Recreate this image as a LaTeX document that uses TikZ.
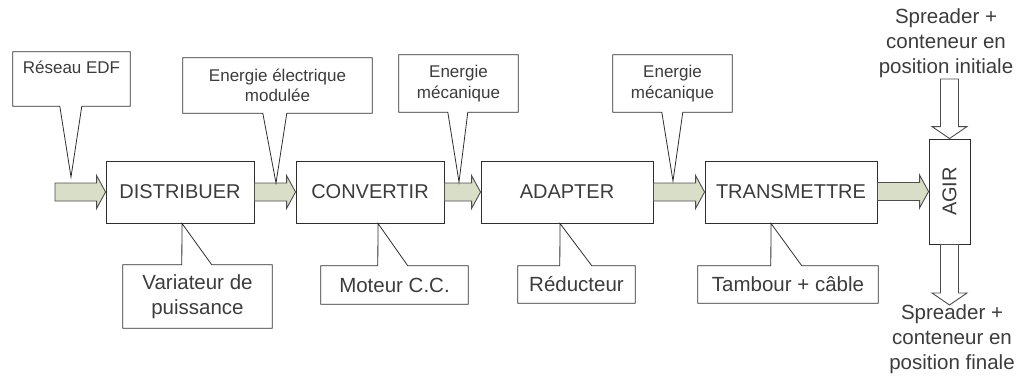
\documentclass[tikz,border=0pt]{standalone}
\usepackage{fontspec}
\setmainfont{Liberation Sans}
\usetikzlibrary{calc}

\definecolor{ink}{HTML}{2E2E2E}
\definecolor{txt}{HTML}{3C3C3C}
\definecolor{flowfill}{HTML}{D8DEC8}

\tikzset{
  block/.style={draw=ink, line width=0.9pt, fill=white, text=txt,
    minimum height=62pt, inner sep=0pt,
    font=\fontsize{20}{24}\selectfont},
  ctext/.style={text=txt, inner sep=0pt, align=center},
  small/.style={font=\fontsize{17}{20.5}\selectfont},
  large/.style={font=\fontsize{20.5}{25}\selectfont},
  cout/.style={draw=ink, line width=0.8pt, line join=miter},
  flow/.style={draw=ink!85, line width=0.9pt, fill=flowfill, line join=miter},
  hollow/.style={draw=ink!85, line width=0.9pt, fill=white, line join=miter}
}

% horizontal block arrow from #1 to #2 (tip at #2)
\newcommand\harrow[2]{%
  \draw[flow] let \p1=(#1), \p2=(#2) in
    (\x1,\y2+9pt) -- (\x2-9pt,\y2+9pt) -- (\x2-9pt,\y2+16.5pt) -- (\x2,\y2)
    -- (\x2-9pt,\y2-16.5pt) -- (\x2-9pt,\y2-9pt) -- (\x1,\y2-9pt) -- cycle;}
% downward hollow block arrow from #1 to #2 (tip at #2)
\newcommand\varrow[2]{%
  \draw[hollow] let \p1=(#1), \p2=(#2) in
    (\x2-9pt,\y1) -- (\x2-9pt,\y2+12pt) -- (\x2-17.5pt,\y2+12pt) -- (\x2,\y2)
    -- (\x2+17.5pt,\y2+12pt) -- (\x2+9pt,\y2+12pt) -- (\x2+9pt,\y1) -- cycle;}
% callout box #1 pointing down to #2, pointer base at offsets #3,#4 from the left side
\newcommand\calloutdown[4]{%
  \draw[cout] (#1.south west) -- (#1.north west) -- (#1.north east) -- (#1.south east)
    -- ([xshift=#4]#1.south west) -- (#2) -- ([xshift=#3]#1.south west) -- cycle;}
% callout box #1 pointing up to #2
\newcommand\calloutup[4]{%
  \draw[cout] (#1.north west) -- (#1.south west) -- (#1.south east) -- (#1.north east)
    -- ([xshift=#4]#1.north west) -- (#2) -- ([xshift=#3]#1.north west) -- cycle;}

\begin{document}
\begin{tikzpicture}[x=1pt, y=-1pt]
\useasboundingbox (0,0) rectangle (1019,376);

% function blocks
\node[block, minimum width=148pt] (dist)  at (180,192)   {DISTRIBUER};
\node[block, minimum width=148pt] (conv)  at (370,192)   {CONVERTIR};
\node[block, minimum width=172pt] (adap)  at (567,192)   {ADAPTER};
\node[block, minimum width=172pt] (trans) at (791,192)   {TRANSMETTRE};
\node[block, minimum width=41pt, minimum height=105pt] (agir) at (949.5,191.5) {\rotatebox{90}{AGIR}};

% energy flow
\coordinate (src) at (55,192);
\harrow{src}{dist.west}
\harrow{dist.east}{conv.west}
\harrow{conv.east}{adap.west}
\harrow{adap.east}{trans.west}
\harrow{trans.east}{agir.west}

% matter in / out of AGIR
\node[ctext, large] (ini) at (946,43) {Spreader +\\conteneur en\\position initiale};
\node[ctext, large] (fin) at (952,339) {Spreader +\\conteneur en\\position finale};
\coordinate (inflow) at (949.5,79);
\coordinate (outflow) at (949.5,305);
\varrow{inflow}{agir.north}
\varrow{agir.south}{outflow}

% energy labels
\node[minimum width=117pt, minimum height=54pt, inner sep=0pt] (edf) at (71.5,79) {};
\node[ctext, small, anchor=north] (edft) at ([yshift=-9pt]edf.north) {Réseau EDF};
\coordinate (tedf) at (71,177);
\calloutdown{edf}{tedf}{47pt}{69pt}

\node[ctext, small, minimum width=189pt, minimum height=55pt] (mod) at (277.5,85.5)
  {Energie électrique\\modulée};
\coordinate (tmod) at (276,183);
\calloutdown{mod}{tmod}{80pt}{104pt}

\node[ctext, small, minimum width=119pt, minimum height=57pt] (mecA) at (458.5,83.5)
  {Energie\\mécanique};
\coordinate (tmecA) at (459,182);
\calloutdown{mecA}{tmecA}{49pt}{69pt}

\node[ctext, small, minimum width=119pt, minimum height=57pt] (mecB) at (672.5,83.5)
  {Energie\\mécanique};
\coordinate (tmecB) at (673,181);
\calloutdown{mecB}{tmecB}{49pt}{70pt}

% component labels
\node[ctext, large, minimum width=149pt, minimum height=63pt] (var) at (197.5,296.5)
  {Variateur de\\puissance};
\coordinate (tvar) at ([xshift=2pt]dist.south);
\calloutup{var}{tvar}{59pt}{89pt}

\node[ctext, large, minimum width=147pt, minimum height=38pt] (mot) at (394.5,285)
  {Moteur C.C.};
\coordinate (tmot) at ([xshift=8pt]conv.south);
\calloutup{mot}{tmot}{57pt}{87pt}

\node[ctext, large, minimum width=117pt, minimum height=37pt] (red) at (576.5,284.5)
  {Réducteur};
\coordinate (tred) at ([xshift=-7pt]adap.south);
\calloutup{red}{tred}{42pt}{74pt}

\node[ctext, large, minimum width=180pt, minimum height=37pt] (tam) at (788,284.5)
  {Tambour + câble};
\coordinate (ttam) at ([xshift=-20pt]trans.south);
\calloutup{tam}{ttam}{73pt}{104pt}
\end{tikzpicture}
\end{document}
